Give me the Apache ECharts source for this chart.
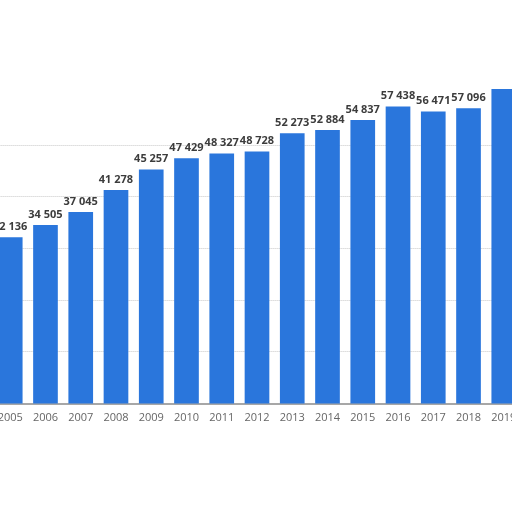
<!DOCTYPE html>
<html>
<head>
<meta charset="utf-8">
<script src="https://cdn.jsdelivr.net/npm/echarts@6/dist/echarts.min.js"></script>
<style>
  html, body { margin: 0; padding: 0; background: #fff; }
  #grafico { width: 512px; height: 512px; }
</style>
</head>
<body>
<div id="grafico"></div>
<script>
// years along the axis
const anios = ['2005', '2006', '2007', '2008', '2009', '2010', '2011', '2012',
  '2013', '2014', '2015', '2016', '2017', '2018', '2019'];
// values (2019 is cut off)
const valores = [32136, 34505, 37045, 41278, 45257, 47429, 48327, 48728,
  52273, 52884, 54837, 57438, 56471, 57096, 60800];
// labels hidden where the picture cuts them off
const ocultarEtiqueta = [false, false, false, false, false, false, false, false,
  false, false, false, false, false, false, true];

const formatoMiles = (v) => String(v).replace(/\B(?=(\d{3})+(?!\d))/g, ' ');

const chart = echarts.init(document.getElementById('grafico'));

const datos = valores.map((v, i) => ({
  value: v,
  label: { show: !ocultarEtiqueta[i] }
}));

chart.setOption({
  animation: false,
  backgroundColor: '#ffffff',
  grid: {
    left: -7.4, width: 528.8, top: 41.5, bottom: 108.6,
    containLabel: false,
    outerBoundsMode: 'none'
  },
  xAxis: {
    type: 'category',
    data: anios,
    axisLine: { lineStyle: { color: '#8a8a8a', width: 1.5 } },
    axisTick: { show: false },
    axisLabel: {
      color: '#666',
      fontFamily: 'Open Sans',
      fontSize: 11,
      margin: 9
    }
  },
  yAxis: {
    type: 'value',
    min: 0,
    max: 70000,
    interval: 10000,
    axisLine: { show: false },
    axisTick: { show: false },
    axisLabel: { show: false },
    splitLine: {
      lineStyle: {
        type: 'dotted',
        color: ['transparent', '#c8c8c8', '#c8c8c8', '#c8c8c8', '#c8c8c8', '#c8c8c8', 'transparent', 'transparent']
      }
    }
  },
  series: [{
    type: 'bar',
    data: datos,
    barWidth: '70%',
    itemStyle: { color: '#2a76dc' },
    label: {
      position: 'top',
      distance: 5,
      color: '#3c3c3c',
      fontFamily: 'Open Sans',
      fontWeight: 'bold',
      fontSize: 11,
      formatter: (p) => formatoMiles(p.value)
    }
  }]
});
</script>
</body>
</html>
